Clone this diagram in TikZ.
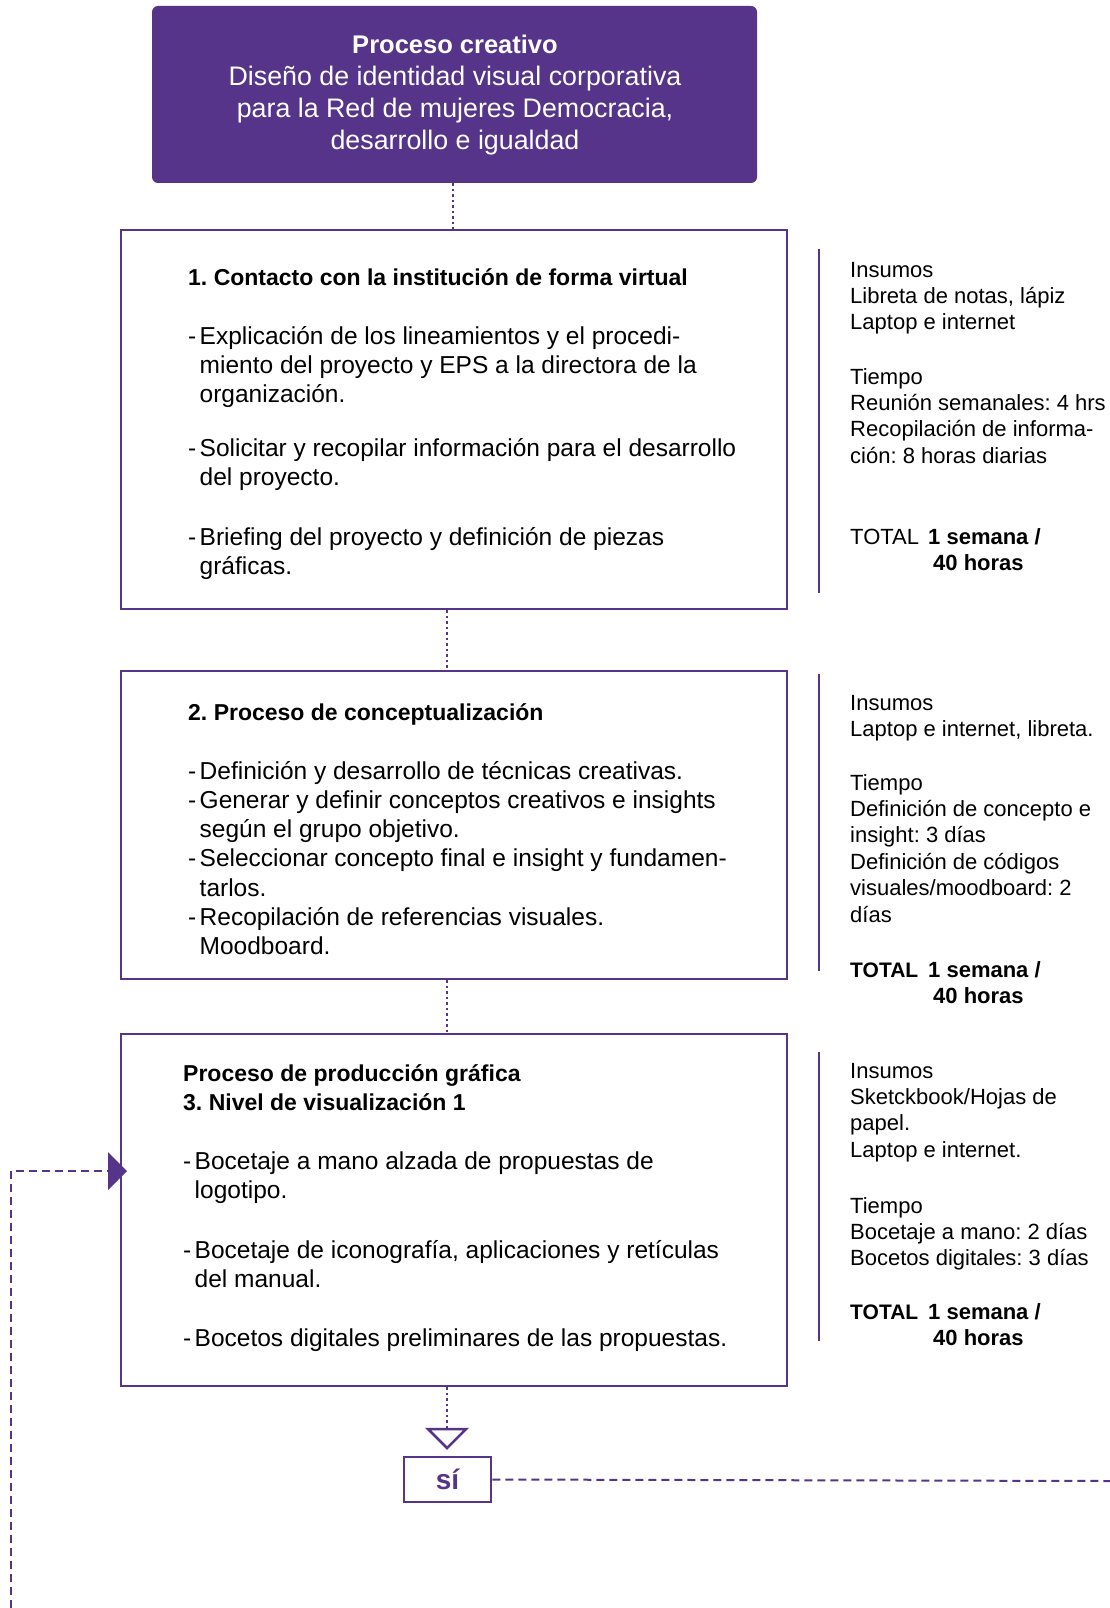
\documentclass[tikz,border=0pt]{standalone}
\usepackage{fontspec}
\setmainfont{Liberation Sans}
\usetikzlibrary{arrows.meta}
\definecolor{pur}{RGB}{85,52,138}
\newcommand\vl[1]{\vtop{\halign{##\hfil\cr#1\crcr}}}
\newcommand\vc[1]{\vtop{\halign{\hfil##\hfil\cr#1\crcr}}}
\newcommand\bul{\makebox[11.5pt][l]{-}}
\newcommand\ind{\hspace*{11.5pt}}
\frenchspacing
\begin{document}
\begin{tikzpicture}[x=1pt,y=-1pt,
  body/.style={anchor=base west, inner sep=0pt, font=\fontsize{24.5}{29}\selectfont},
  ttl/.style={anchor=base west, inner sep=0pt, font=\fontsize{23}{29}\selectfont\bfseries},
  side/.style={anchor=base west, inner sep=0pt, font=\fontsize{22}{26.4}\selectfont},
  pbox/.style={draw=pur, line width=2.5pt, inner sep=0pt, fill=white},
  dotline/.style={draw=pur, line width=2.5pt, dash pattern=on 2.5pt off 3pt},
  dashline/.style={draw=pur, line width=2pt, dash pattern=on 8pt off 5pt},
  sideline/.style={draw=pur, line width=2.5pt}]
\useasboundingbox (0,0) rectangle (1110,1608);
% header
\node[fill=pur, rounded corners=6pt, minimum width=605pt, minimum height=177pt, inner sep=0pt] (hdr) at (454.5,94.5) {};
\node[anchor=base, inner sep=0pt, text=white, font=\fontsize{26.8}{32}\selectfont] (hdrtxt) at (455,54)
  {\vc{{\fontsize{25.5}{32}\selectfont\bfseries Proceso creativo}\cr Diseño de identidad visual corporativa\cr para la Red de mujeres Democracia,\cr desarrollo e igualdad}};
% boxes
\node[pbox, minimum width=666pt, minimum height=379pt] (b1) at (454,419.5) {};
\node[pbox, minimum width=666pt, minimum height=308pt] (b2) at (454,825) {};
\node[pbox, minimum width=666pt, minimum height=352pt] (b3) at (454,1210) {};
% connectors
\draw[dotline] (hdr.south -| 453,0) -- (b1.north -| 453,0);
\coordinate (col) at (447,0);
\draw[dotline] (b1.south -| col) -- (b2.north -| col);
\draw[dotline] (b2.south -| col) -- (b3.north -| col);
\coordinate (tri) at (447,1429);
\draw[dotline] (b3.south -| col) -- (tri);
\draw[draw=pur, line width=2.5pt, fill=white, line join=miter] (428,1429) -- (466,1429) -- (447,1448) -- cycle;
\node[draw=pur, line width=2.5pt, minimum width=87pt, minimum height=45pt, inner sep=0pt, text=pur, font=\fontsize{28}{28}\selectfont\bfseries] (si) at (447.5,1479.5) {sí};
\coordinate (rend) at (1110,1481);
\draw[dashline] (si.east) -- (rend);
\coordinate (lend) at (11,1608);
\coordinate (ain) at (127,1171);
\draw[dashline, -{Triangle[length=19pt,width=38pt,line width=0pt]}] (lend) |- (ain);
% side lines
\draw[sideline] (819,249) -- (819,593);
\draw[sideline] (819,674) -- (819,971);
\draw[sideline] (819,1052) -- (819,1341);
% box 1 text
\node[ttl] (t1) at (188,285) {1. Contacto con la institución de forma virtual};
\node[body] (p11) at (188,344) {\vl{\bul Explicación de los lineamientos y el procedi-\cr\ind miento del proyecto y EPS a la directora de la\cr\ind organización.}};
\node[body] (p12) at (188,456) {\vl{\bul Solicitar y recopilar información para el desarrollo\cr\ind del proyecto.}};
\node[body] (p13) at (188,545) {\vl{\bul Briefing del proyecto y definición de piezas\cr\ind gráficas.}};
% box 2 text
\node[ttl] (t2) at (188,720) {2. Proceso de conceptualización};
\node[body, font=\fontsize{24.5}{29.3}\selectfont] (p21) at (188,779) {\vl{\bul Definición y desarrollo de técnicas creativas.\cr
\bul Generar y definir conceptos creativos e insights\cr\ind según el grupo objetivo.\cr
\bul Seleccionar concepto final e insight y fundamen-\cr\ind tarlos.\cr
\bul Recopilación de referencias visuales.\cr\ind Moodboard.}};
% box 3 text
\node[ttl] (t3) at (183,1081) {\vl{Proceso de producción gráfica\cr 3. Nivel de visualización 1}};
\node[body] (p31) at (183,1169) {\vl{\bul Bocetaje a mano alzada de propuestas de\cr\ind logotipo.}};
\node[body] (p32) at (183,1258) {\vl{\bul Bocetaje de iconografía, aplicaciones y retículas\cr\ind del manual.}};
\node[body] (p33) at (183,1346) {\vl{\bul Bocetos digitales preliminares de las propuestas.}};
% side 1
\node[side] (s1a) at (850,277) {\vl{Insumos\cr Libreta de notas, lápiz\cr Laptop e internet}};
\node[side] (s1b) at (850,384) {\vl{Tiempo\cr Reunión semanales: 4 hrs\cr Recopilación de informa-\cr ción: 8 horas diarias}};
\node[side] (s1c) at (850,544) {TOTAL};
\node[side] (s1d) at (928,544) {\vl{\textbf{1 semana /}\cr\hspace*{5pt}\textbf{40 horas}}};
% side 2
\node[side] (s2a) at (850,710) {\vl{Insumos\cr Laptop e internet, libreta.}};
\node[side] (s2b) at (850,790) {\vl{Tiempo\cr Definición de concepto e\cr insight: 3 días\cr Definición de códigos\cr visuales/moodboard: 2\cr días}};
\node[side, font=\fontsize{21}{26.4}\selectfont] (s2c) at (850,977) {\textbf{TOTAL}};
\node[side] (s2d) at (928,977) {\vl{\textbf{1 semana /}\cr\hspace*{5pt}\textbf{40 horas}}};
% side 3
\node[side] (s3a) at (850,1078) {\vl{Insumos\cr Sketckbook/Hojas de\cr papel.\cr Laptop e internet.}};
\node[side] (s3b) at (850,1213) {\vl{Tiempo\cr Bocetaje a mano: 2 días\cr Bocetos digitales: 3 días}};
\node[side, font=\fontsize{21}{26.4}\selectfont] (s3c) at (850,1319) {\textbf{TOTAL}};
\node[side] (s3d) at (928,1319) {\vl{\textbf{1 semana /}\cr\hspace*{5pt}\textbf{40 horas}}};
\end{tikzpicture}
\end{document}
